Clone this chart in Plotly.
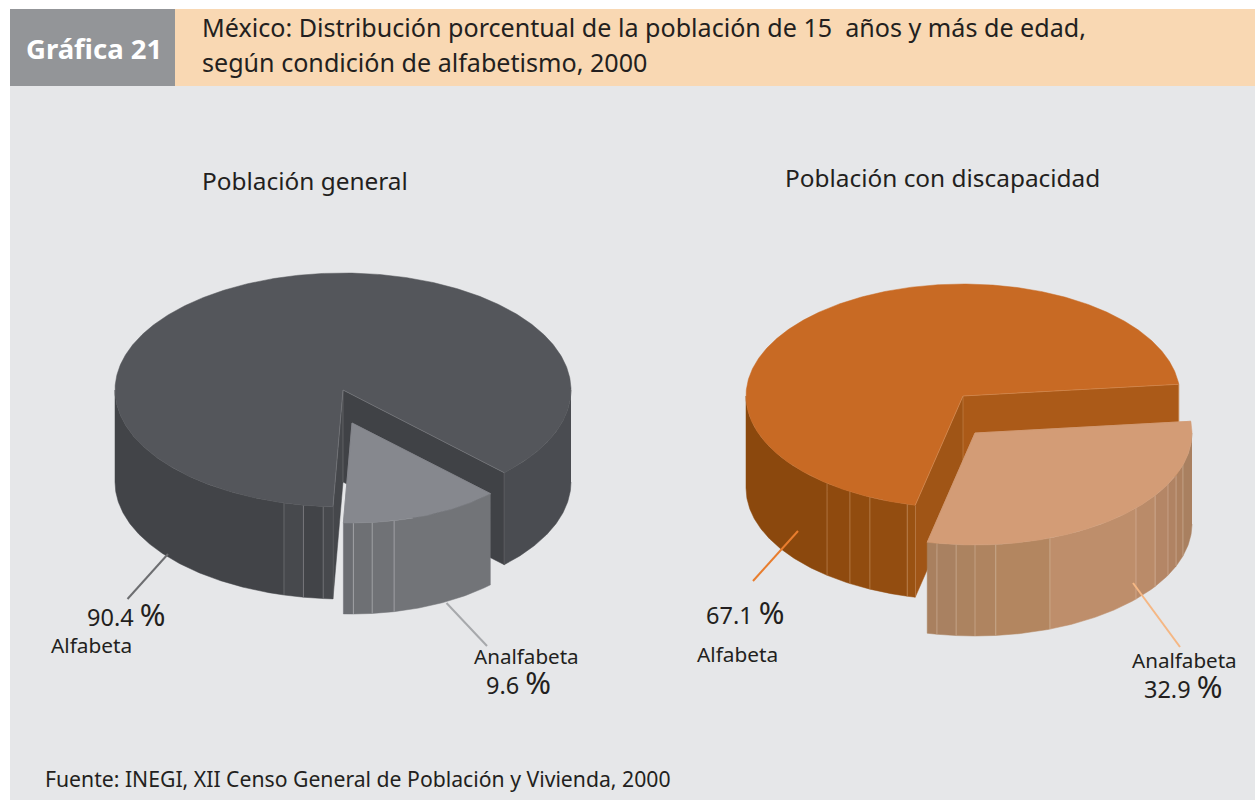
import numpy as np
import plotly.graph_objects as go

# ---------- data ----------
categories = ["Alfabeta", "Analfabeta"]
general_pct = [90.4, 9.6]
disability_pct = [67.1, 32.9]
# shares of the circle as actually drawn in the picture (slice sweep / 360)
general_drawn_share = [86.8, 13.2]
disability_drawn_share = [69.8, 30.2]

FONT = "Noto Sans"
INK = "#231f20"
PANEL = "#e6e7e9"


def rim_xy(cx, cy, rx, ry, a0, a1, dy=0):
    t = np.radians(np.linspace(a0, a1, max(2, int(abs(a1 - a0) * 2) + 1)))
    return cx + rx * np.cos(t), cy + dy + ry * np.sin(t)


fig = go.Figure()


def poly(xs, ys, fill):
    fig.add_trace(go.Scatter(
        x=list(xs), y=list(ys), mode="lines", fill="toself", fillcolor=fill,
        line=dict(color=fill, width=0.5),
        hoverinfo="skip", showlegend=False))


def stroke(xs, ys, color, width=1):
    fig.add_trace(go.Scatter(
        x=list(xs), y=list(ys), mode="lines", line=dict(color=color, width=width),
        hoverinfo="skip", showlegend=False))


def side(geo, a0, a1, color):
    x1, y1 = rim_xy(*geo[:4], a0, a1)
    x2, y2 = rim_xy(*geo[:4], a1, a0, dy=geo[4])
    poly(np.r_[x1, x2], np.r_[y1, y2], color)


def facet_lines(geo, angles, color):
    for a in angles:
        x, y = rim_xy(*geo[:4], a, a)
        stroke([x[0], x[0]], [y[0], y[0] + geo[4]], color, 1)


def wall(geo, a, color, hl):
    cx, cy, rx, ry, d = geo
    ex = cx + rx * np.cos(np.radians(a))
    ey = cy + ry * np.sin(np.radians(a))
    poly([cx, ex, ex, cx], [cy, ey, ey + d, cy + d], color)
    stroke([ex, ex], [ey, ey + d], hl, 1)


def top(geo, a0, a1, color, hl):
    cx, cy, rx, ry, d = geo
    x, y = rim_xy(cx, cy, rx, ry, a0, a1)
    poly(np.r_[cx, x, cx], np.r_[cy, y, cy], color)
    stroke(np.r_[x[0], cx, x[-1]], np.r_[y[0], cy, y[-1]], hl, 0.8)


def draw_pie(shares, start, main_geo, slice_geo, st):
    sweep = shares[1] / 100 * 360
    a0, a1 = start, start + sweep
    # inner walls of the gap
    wall(main_geo, a1, st["wall_l"], st["hl"])
    wall(main_geo, a0, st["wall_r"], st["hl"])
    stroke([main_geo[0]] * 2, [main_geo[1], main_geo[1] + main_geo[4]], st["hl"], 0.8)
    # outer rim of the large slice
    for b0, b1, c in st["main_rim"](a0, a1):
        side(main_geo, b0, b1, c)
    facet_lines(main_geo, st["main_lines"], st["hl"])
    top(main_geo, a1, a0 + 360, st["top"], st["hl"])
    # detached slice
    for b0, b1, c in st["slice_rim"](a0, a1):
        side(slice_geo, b0, b1, c)
    facet_lines(slice_geo, st["slice_lines"], st["slice_hl"])
    top(slice_geo, a0, a1, st["slice_top"], st["slice_top"])


# panel furniture
shapes = [
    dict(type="rect", x0=10, x1=1255, y0=86, y1=800, fillcolor=PANEL, line_width=0, layer="below"),
    dict(type="rect", x0=10, x1=175, y0=9, y1=86, fillcolor="#939598", line_width=0, layer="below"),
    dict(type="rect", x0=175, x1=1255, y0=9, y1=86, fillcolor="#f9d8b3", line_width=0, layer="below"),
]

draw_pie(
    general_drawn_share, 45,
    (343, 390, 228, 117, 92), (352, 423, 196, 100, 91),
    dict(
        top="#54565b", wall_l="#45474b", wall_r="#404246", hl="rgba(190,190,195,0.28)",
        main_rim=lambda a0, a1: [
            (0, a0, "#4a4c51"), (a1, 95, "#47494d"), (95, 100, "#424448"),
            (100, 105, "#47494d"), (105, 180, "#424448")],
        main_lines=[95, 100, 105],
        slice_rim=lambda a0, a1: [
            (a0, 77.6, "#727478"), (77.6, 84.1, "#707276"), (84.1, 89.6, "#6e7074"), (89.6, a1, "#6b6d72")],
        slice_lines=[77.6, 84.1, 89.6],
        slice_hl="rgba(215,215,220,0.4)",
        slice_top="#86888e",
    ),
)

draw_pie(
    disability_drawn_share, -6,
    (963, 396, 217, 112, 92), (975, 433, 217, 112, 91),
    dict(
        top="#c86a24", wall_l="#a05516", wall_r="#ab5a18", hl="rgba(235,190,150,0.35)",
        main_rim=lambda a0, a1: [
            (a1, 104.9, "#9a5212"), (104.9, 115.4, "#934d10"), (115.4, 121.4, "#914c0f"),
            (121.4, 128.8, "#8f4a0e"), (128.8, 180, "#8b480d")],
        main_lines=[104.9, 115.4, 121.4, 128.8],
        slice_rim=lambda a0, a1: [
            (0, 16.6, "#a98060"), (16.6, 22.1, "#ad8160"), (22.1, 27.2, "#b08363"),
            (27.2, 33.9, "#b48666"), (33.9, 42.1, "#ba8b69"), (42.1, 69.8, "#be8e6b"),
            (69.8, 84.5, "#b38660"), (84.5, 90, "#af8460"), (90, 95, "#ac8360"),
            (95, 100.1, "#a98161"), (100.1, a1, "#a9805f")],
        slice_lines=[16.6, 22.1, 27.2, 33.9, 42.1, 69.8, 84.5, 90, 95, 100.1],
        slice_hl="rgba(235,215,195,0.35)",
        slice_top="#d39c76",
    ),
)

# leader lines
for (x0, y0, x1, y1, c) in [
    (127.5, 599, 168, 554, "#6d6e71"),
    (446.5, 603, 487, 646, "#a7a9ac"),
    (753, 581, 798, 531, "#e87d2e"),
    (1133, 583, 1180, 647, "#f5b784"),
]:
    shapes.append(dict(type="line", x0=x0, y0=y0, x1=x1, y1=y1, line=dict(color=c, width=2)))


def text(x, y, s, size, anchor="left", color=INK, bold=False):
    return dict(x=x, y=y, text=f"<b>{s}</b>" if bold else s, showarrow=False, xanchor=anchor, yanchor="middle",
                xref="x", yref="y", align=anchor, font=dict(family=FONT, size=size, color=color))


def pct(v):
    return f'{v} <span style="font-size:31px">%</span>'


def stacked(name, v):
    # label and value as one two-line text, the value indented under the label
    return (f'<span style="font-size:20.6px">{name}</span><br>'
            f'\u00a0\u00a0<span style="font-size:23.5px">{v} </span><span style="font-size:31px">%</span>')


annotations = [
    text(24, 48, "Gráfica 21", 27.5, color="white", bold=True),
    text(199.5, 27, "México: Distribución porcentual de la población de 15  años y más de edad,", 25.1),
    text(199.5, 62, "según condición de alfabetismo, 2000", 25.1),
    text(200, 180, "Población general", 24.4),
    text(783, 177, "Población con discapacidad", 24.4),
    text(43, 778, "Fuente: INEGI, XII Censo General de Población y Vivienda, 2000", 21.2),
    text(85, 613.5, pct(general_pct[0]), 23.5),
    text(48.5, 645, categories[0], 20.8),
    text(472, 672.5, stacked(categories[1], general_pct[1]), 23),
    text(704, 611.5, pct(disability_pct[0]), 23.5),
    text(694.5, 654, categories[0], 20.8),
    text(1130, 676.5, stacked(categories[1], disability_pct[1]), 23),
]

fig.update_layout(
    width=1255, height=800, margin=dict(l=0, r=0, t=0, b=0),
    paper_bgcolor="white", plot_bgcolor="white", showlegend=False,
    xaxis=dict(range=[0, 1255], visible=False, fixedrange=True),
    yaxis=dict(range=[800, 0], visible=False, fixedrange=True),
    shapes=shapes, annotations=annotations,
)
fig.write_html("out.html", post_script="document.body.style.margin='0';", config=dict(displayModeBar=False))
